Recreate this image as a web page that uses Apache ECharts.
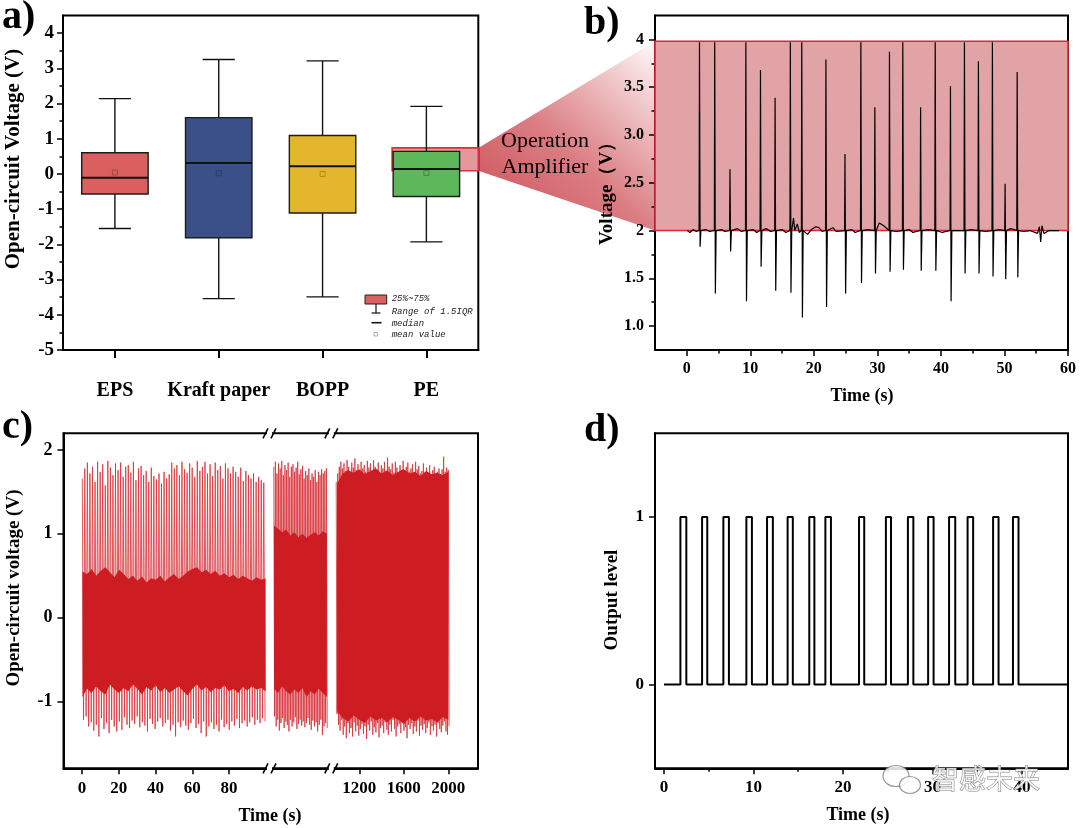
<!DOCTYPE html>
<html><head><meta charset="utf-8">
<script src="https://cdn.jsdelivr.net/npm/echarts@6/dist/echarts.min.js"></script>
<style>html,body{margin:0;padding:0;background:#fff}#c{width:1080px;height:828px}</style>
</head><body><div id="c"></div>
<script>
// ================= DATA =================
// Panel a: box plot
const aCategories = ['EPS', 'Kraft paper', 'BOPP', 'PE'];
const aWhiskerLow  = [-1.55, -3.54, -3.49, -1.93];
const aQ1          = [-0.57, -1.81, -1.11, -0.64];
const aMedian      = [-0.11,  0.31,  0.22,  0.14];
const aQ3          = [ 0.60,  1.60,  1.09,  0.64];
const aWhiskerHigh = [ 2.14,  3.25,  3.21,  1.92];
const aMean        = [ 0.04,  0.02,  0.00,  0.03];
const aYTicks      = [-5, -4, -3, -2, -1, 0, 1, 2, 3, 4];
const aYMinorTicks = [-4.5, -3.5, -2.5, -1.5, -0.5, 0.5, 1.5, 2.5, 3.5];
const aZoomLevels  = [0.09, 0.74];          // highlighted region on PE
const aLegendTexts = ['25%~75%', 'Range of 1.5IQR', 'median', 'mean value'];

// Panel b: amplified voltage
const bSpikeTimes   = [2.0, 4.4, 6.8, 9.3, 11.6, 13.9, 16.3, 18.1, 21.9, 24.9, 27.4, 29.6, 31.9, 34.0, 36.8, 39.1, 41.5, 43.7, 45.9, 48.1, 50.1, 52.0];
const bSpikeTops    = [3.97, 3.97, 2.64, 3.97, 3.68, 3.39, 3.97, 3.97, 3.79, 2.80, 3.97, 3.29, 3.87, 3.97, 3.29, 3.97, 3.51, 3.97, 3.77, 3.97, 2.49, 3.66];
const bSpikeBottoms = [1.83, 1.34, 1.78, 1.26, 1.62, 1.37, 1.35, 1.09, 1.20, 1.34, 1.45, 1.55, 1.57, 1.59, 1.58, 1.58, 1.26, 1.55, 1.55, 1.52, 1.49, 1.51];
const bBaseline = [[0.1,2.0],[0.5,1.98],[1.0,2.01],[1.5,1.99],[3.0,2.01],[3.6,1.99],[5.5,2.01],[6.0,1.99],[8.0,2.02],[8.6,1.99],
  [10.5,2.01],[11.0,1.98],[12.5,2.02],[13.2,1.99],[15.0,2.01],[15.6,1.98],[16.8,2.13],[17.0,2.0],[17.4,2.07],[17.7,1.98],
  [19.0,1.96],[19.6,2.01],[20.3,2.04],[20.8,2.03],[21.3,1.99],[23.0,2.03],[23.5,1.99],[26.0,2.01],[26.5,1.98],[28.5,2.01],
  [30.3,2.08],[30.6,2.09],[31.0,2.05],[33.0,1.99],[35.0,2.01],[35.6,1.98],[38.0,2.01],[40.2,1.98],[42.5,2.0],[44.8,2.01],
  [47.0,1.99],[49.2,2.01],[51.0,2.02],[53.0,1.99],[54.0,2.0],[55.2,1.97],[55.5,2.04],[55.7,1.88],[55.9,2.05],[56.2,1.97],[57.0,2.0],[58.6,2.0]];
const bBoxTimeRange = [-5, 60];
const bBoxLevels    = [2.0, 3.98];
const bXTicks      = [0, 10, 20, 30, 40, 50, 60];
const bXMinorTicks = [5, 15, 25, 35, 45, 55];
const bYTicks      = [1, 1.5, 2, 2.5, 3, 3.5, 4];
const bYTickLabels = ['1.0', '1.5', '2', '2.5', '3.0', '3.5', '4'];
const bYMinorTicks = [1.25, 1.75, 2.25, 2.75, 3.25, 3.75];

// Panel c: long-term open-circuit voltage (three time segments)
const c1Start = 0.2, c1Period = 1.39;
const c1Peaks = [1.66,1.78,1.85,1.72,1.80,1.62,1.86,1.74,1.83,1.58,1.87,1.79,1.70,1.84,1.76,1.85,1.68,1.80,1.82,1.73,1.86,1.64,1.78,1.81,1.70,1.75,1.62,1.79,1.69,1.65,1.72,1.60,1.74,1.66,1.71,1.85,1.78,1.82,1.70,1.86,1.77,1.73,1.84,1.79,1.68,1.87,1.75,1.80,1.86,1.72,1.83,1.69,1.85,1.76,1.81,1.66,1.84,1.78,1.72,1.80,1.74,1.68,1.79,1.63,1.75,1.70,1.66,1.72,1.62,1.68,1.64,1.61];
const c1Troughs = [-1.22,-1.18,-1.30,-1.25,-1.35,-1.28,-1.42,-1.20,-1.33,-1.26,-1.38,-1.22,-1.30,-1.36,-1.24,-1.34,-1.19,-1.28,-1.32,-1.23,-1.27,-1.18,-1.31,-1.25,-1.29,-1.36,-1.21,-1.27,-1.33,-1.24,-1.20,-1.30,-1.26,-1.22,-1.35,-1.28,-1.42,-1.25,-1.31,-1.23,-1.29,-1.34,-1.26,-1.21,-1.32,-1.27,-1.38,-1.24,-1.42,-1.30,-1.25,-1.33,-1.28,-1.36,-1.22,-1.31,-1.27,-1.34,-1.24,-1.29,-1.21,-1.32,-1.26,-1.23,-1.30,-1.25,-1.19,-1.28,-1.22,-1.26,-1.20,-1.24];
const c1CoreStart = 0.3, c1CoreStep = 2.49;
const c1CoreTop = [0.55,0.52,0.58,0.50,0.56,0.60,0.54,0.48,0.57,0.52,0.46,0.50,0.44,0.49,0.42,0.47,0.45,0.50,0.43,0.48,0.52,0.46,0.50,0.55,0.58,0.60,0.54,0.57,0.52,0.56,0.50,0.53,0.48,0.51,0.46,0.50,0.47,0.44,0.48,0.45,0.47];
const c1CoreBottom = [-0.95,-0.85,-0.90,-0.82,-0.88,-0.92,-0.80,-0.86,-0.90,-0.84,-0.88,-0.80,-0.85,-0.92,-0.83,-0.87,-0.81,-0.89,-0.84,-0.90,-0.86,-0.82,-0.88,-0.93,-0.85,-0.80,-0.87,-0.83,-0.89,-0.84,-0.86,-0.81,-0.88,-0.85,-0.90,-0.83,-0.87,-0.82,-0.86,-0.84,-0.88];

const c2Start = 400.3, c2Period = 1.6;
const c2Peaks = [1.80,1.86,1.72,1.84,1.78,1.87,1.70,1.82,1.76,1.85,1.68,1.80,1.83,1.74,1.79,1.86,1.71,1.77,1.81,1.66,1.75,1.70,1.78,1.64,1.72,1.68,1.76,1.62,1.74,1.70,1.77,1.72,1.75,1.78];
const c2Troughs = [-1.18,-1.30,-1.22,-1.35,-1.26,-1.20,-1.32,-1.24,-1.28,-1.36,-1.22,-1.30,-1.25,-1.19,-1.33,-1.27,-1.22,-1.29,-1.24,-1.31,-1.26,-1.20,-1.28,-1.34,-1.23,-1.30,-1.25,-1.36,-1.28,-1.22,-1.40,-1.30,-1.26,-1.32];
const c2CoreStart = 400.5, c2CoreStep = 4.08;
const c2CoreTop = [1.10,1.06,1.02,1.05,0.98,1.02,0.96,1.00,0.95,0.99,1.02,0.98,1.03,1.00];
const c2CoreBottom = [-0.85,-0.90,-0.82,-0.88,-0.92,-0.86,-0.90,-0.84,-0.95,-0.88,-0.92,-0.85,-0.90,-0.95];

const c3Start = 992, c3Period = 14;
const c3Peaks = [1.62,1.72,1.80,1.86,1.78,1.84,1.75,1.88,1.80,1.73,1.85,1.79,1.90,1.76,1.83,1.70,1.86,1.78,1.82,1.74,1.87,1.79,1.84,1.72,1.88,1.80,1.76,1.85,1.70,1.82,1.78,1.86,1.74,1.91,1.80,1.77,1.84,1.73,1.86,1.79,1.68,1.82,1.76,1.87,1.72,1.80,1.85,1.74,1.78,1.83,1.70,1.86,1.77,1.81,1.72,1.75,1.84,1.68,1.79,1.73,1.82,1.70,1.76,1.80,1.66,1.74,1.78,1.71,1.77,1.92,1.74,1.79,1.76];
const c3Troughs = [-1.15,-1.28,-1.35,-1.22,-1.40,-1.30,-1.44,-1.26,-1.38,-1.32,-1.42,-1.25,-1.36,-1.29,-1.41,-1.33,-1.27,-1.39,-1.30,-1.45,-1.28,-1.35,-1.24,-1.40,-1.31,-1.37,-1.26,-1.43,-1.32,-1.29,-1.38,-1.25,-1.34,-1.40,-1.28,-1.36,-1.22,-1.33,-1.42,-1.30,-1.27,-1.38,-1.24,-1.35,-1.31,-1.44,-1.28,-1.33,-1.26,-1.39,-1.30,-1.36,-1.23,-1.41,-1.29,-1.34,-1.27,-1.38,-1.32,-1.25,-1.40,-1.30,-1.35,-1.28,-1.42,-1.26,-1.33,-1.37,-1.29,-1.24,-1.36,-1.40,-1.30];
const c3CoreStart = 1000, c3CoreStep = 50;
const c3CoreTop = [1.60,1.72,1.76,1.73,1.77,1.71,1.75,1.78,1.72,1.76,1.70,1.74,1.77,1.72,1.74,1.69,1.75,1.71,1.73,1.70,1.74];
const c3CoreBottom = [-1.12,-1.20,-1.24,-1.17,-1.22,-1.26,-1.18,-1.23,-1.20,-1.25,-1.19,-1.22,-1.27,-1.20,-1.24,-1.18,-1.23,-1.21,-1.25,-1.19,-1.22];

const c1XTicks = [0, 20, 40, 60, 80];
const c3XTicks = [1200, 1600, 2000];
const cYTicks  = [-1, 0, 1, 2];

// Panel d: comparator output
const dRise = [1.84, 4.26, 6.64, 9.21, 11.52, 13.82, 16.24, 18.04, 21.80, 24.80, 27.26, 29.52, 31.86, 33.93, 36.78, 39.00];
const dFall = [2.50, 4.84, 7.26, 9.83, 12.17, 14.40, 16.81, 18.66, 22.38, 25.37, 27.87, 30.13, 32.55, 34.55, 37.39, 39.62];
const dTimeRange = [0, 45.15];
const dXTicks = [0, 10, 20, 30, 40];
const dXMinorTicks = [5, 15, 25, 35];
const dYTicks = [0, 1];

// ================= STYLE / LAYOUT =================
const FONT = '"Liberation Serif", "Times New Roman", serif';
const boxColors = ['#d9605f', '#3b5088', '#e4b62d', '#5db85a'];
const meanColors = ['#a84444', '#2c3d6a', '#b08a1e', '#3f8f3e'];
const C_RED = '#cd1c22';
const GA = {left: 63, top: 15.5, width: 415.3, height: 334.5};
const GB = {left: 655, top: 15.5, width: 413, height: 334.5};
const GC1 = {left: 63.5, top: 433.3, width: 206, height: 335};
const GC2 = {left: 269.5, top: 433.3, width: 61.8, height: 335};
const GC3 = {left: 331.3, top: 433.3, width: 146.7, height: 335};
const GD = {left: 655, top: 433.3, width: 413, height: 335};

// ================= BUILD =================
function zigzag(t0, period, hi, lo) {
  const d = [];
  for (let i = 0; i < hi.length; i++) {
    const t = t0 + i * period;
    d.push([t, hi[i]]);
    d.push([t + period / 2, lo[i]]);
  }
  return d;
}
function bandSeries(xi, yi, t0, step, top, bot) {
  return {
    type: 'custom', xAxisIndex: xi, yAxisIndex: yi, clip: true, silent: true, z: 4,
    data: [[t0, top[0]]],
    renderItem: function (params, api) {
      const pts = [];
      for (let i = 0; i < top.length; i++) pts.push(api.coord([t0 + i * step, top[i]]));
      for (let i = bot.length - 1; i >= 0; i--) pts.push(api.coord([t0 + i * step, bot[i]]));
      return {type: 'polygon', shape: {points: pts}, style: {fill: C_RED}};
    }
  };
}
function zigSeries(xi, yi, data) {
  return {type: 'line', xAxisIndex: xi, yAxisIndex: yi, data: data, showSymbol: false, z: 2,
    lineStyle: {width: 1, color: '#d8333a', opacity: 0.82}, silent: true};
}
function buildB() {
  const pts = [];
  bBaseline.forEach(p => {
    if (!bSpikeTimes.some(s => p[0] > s - 0.3 && p[0] < s + 0.45)) pts.push(p);
  });
  bSpikeTimes.forEach((s, i) => {
    pts.push([s - 0.06, 2.0], [s, bSpikeTops[i]], [s + 0.1, bSpikeBottoms[i]], [s + 0.22, 2.0]);
  });
  pts.sort((p, q) => p[0] - q[0]);
  return pts;
}
function buildD() {
  const d = [[dTimeRange[0], 0]];
  dRise.forEach((r, i) => { d.push([r, 0], [r, 1], [dFall[i], 1], [dFall[i], 0]); });
  d.push([dTimeRange[1], 0]);
  return d;
}
const boxData = aCategories.map((c, i) => [i, aWhiskerLow[i], aQ1[i], aMedian[i], aQ3[i], aWhiskerHigh[i], aMean[i]]);

const lbl = (size, extra) => Object.assign({color: '#000', fontFamily: FONT, fontWeight: 'bold', fontSize: size}, extra || {});
const axLine = {show: true, onZero: false, lineStyle: {color: '#000', width: 2}};
function valAxis(gi, min, max, ticks, labelSize, margin, extra) {
  return Object.assign({
    type: 'value', gridIndex: gi, min: min, max: max, splitLine: {show: false},
    axisLine: axLine,
    axisTick: {show: true, customValues: ticks, length: 6, lineStyle: {color: '#000', width: 1.5}},
    axisLabel: lbl(labelSize, {customValues: ticks, margin: margin, formatter: v => String(v)})
  }, extra || {});
}
function minorAxis(gi, min, max, ticks, pos) {
  return {type: 'value', gridIndex: gi, min: min, max: max, position: pos, splitLine: {show: false},
    axisLine: {show: false, onZero: false}, axisLabel: {show: false},
    axisTick: {show: true, customValues: ticks, length: 3.5, lineStyle: {color: '#000', width: 1.5}}};
}
const gridStyle = {show: true, borderColor: '#000', borderWidth: 2, backgroundColor: 'transparent', containLabel: false};

const option = {
  backgroundColor: '#fff',
  animation: false,
  grid: [
    Object.assign({}, GA, gridStyle),
    Object.assign({}, GB, gridStyle),
    Object.assign({}, GC1, {show: false}),
    Object.assign({}, GC2, {show: false}),
    Object.assign({}, GC3, {show: false}),
    Object.assign({}, GD, gridStyle)
  ],
  xAxis: [
    {type: 'category', gridIndex: 0, data: aCategories, position: 'bottom',
      axisLine: axLine, splitLine: {show: false},
      axisTick: {show: true, alignWithLabel: true, length: 8, lineStyle: {color: '#000', width: 2}},
      axisLabel: lbl(20, {margin: 31, interval: 0})},
    valAxis(1, -5, 60, bXTicks, 16, 11, {position: 'bottom'}),
    minorAxis(1, -5, 60, bXMinorTicks, 'bottom'),
    valAxis(2, -10, 102, c1XTicks, 17, 12, {position: 'bottom'}),
    {type: 'value', gridIndex: 3, min: 396, max: 458, position: 'bottom', axisLine: axLine,
      axisTick: {show: false}, axisLabel: {show: false}, splitLine: {show: false}},
    valAxis(4, 948, 2267, c3XTicks, 17, 12, {position: 'bottom'}),
    valAxis(5, -1, 45.15, dXTicks, 17, 11, {position: 'bottom'}),
    minorAxis(5, -1, 45.15, dXMinorTicks, 'bottom')
  ],
  yAxis: [
    valAxis(0, -5, 4.5, aYTicks, 19, 9, {position: 'left'}),
    minorAxis(0, -5, 4.5, aYMinorTicks, 'left'),
    valAxis(1, 0.75, 4.25, bYTicks, 16, 11, {position: 'left', axisLabel: lbl(16, {customValues: bYTicks, margin: 11,
      formatter: v => bYTickLabels[bYTicks.indexOf(v)]})}),
    minorAxis(1, 0.75, 4.25, bYMinorTicks, 'left'),
    valAxis(2, -1.8, 2.2, cYTicks, 18, 11, {position: 'left'}),
    {type: 'value', gridIndex: 3, min: -1.8, max: 2.2, show: false},
    {type: 'value', gridIndex: 4, min: -1.8, max: 2.2, show: false},
    valAxis(5, -0.5, 1.5, dYTicks, 17, 11, {position: 'left'})
  ],
  series: [
    // highlighted PE region (behind the boxes)
    {type: 'custom', xAxisIndex: 0, yAxisIndex: 0, z: 1, silent: true,
      data: [[3, aZoomLevels[0], aZoomLevels[1]]],
      renderItem: function (params, api) {
        const c = api.value(0);
        const p0 = api.coord([c, api.value(1)]), p1 = api.coord([c, api.value(2)]);
        const band = api.size([1, 0])[0];
        return {type: 'rect', shape: {x: p0[0] - band * 0.33, y: p1[1], width: band * 0.83, height: p0[1] - p1[1]},
          style: {fill: '#e4989d', stroke: '#db2f37', lineWidth: 1.6}};
      }},
    // boxes
    {type: 'custom', xAxisIndex: 0, yAxisIndex: 0, z: 3, silent: true, data: boxData,
      encode: {x: 0, y: [1, 5]},
      renderItem: function (params, api) {
        const c = api.value(0), i = params.dataIndex;
        const lo = api.coord([c, api.value(1)]), q1 = api.coord([c, api.value(2)]), md = api.coord([c, api.value(3)]);
        const q3 = api.coord([c, api.value(4)]), hi = api.coord([c, api.value(5)]), mn = api.coord([c, api.value(6)]);
        const band = api.size([1, 0])[0], bw = band * 0.64, cw = band * 0.31, x = lo[0];
        const st = {stroke: '#111', lineWidth: 1.4};
        return {type: 'group', children: [
          {type: 'line', shape: {x1: x, y1: hi[1], x2: x, y2: q3[1]}, style: st},
          {type: 'line', shape: {x1: x, y1: q1[1], x2: x, y2: lo[1]}, style: st},
          {type: 'line', shape: {x1: x - cw / 2, y1: hi[1], x2: x + cw / 2, y2: hi[1]}, style: st},
          {type: 'line', shape: {x1: x - cw / 2, y1: lo[1], x2: x + cw / 2, y2: lo[1]}, style: st},
          {type: 'rect', shape: {x: x - bw / 2, y: q3[1], width: bw, height: q1[1] - q3[1]},
            style: {fill: boxColors[i], stroke: '#1c1c1c', lineWidth: 1.4}},
          {type: 'line', shape: {x1: x - bw / 2, y1: md[1], x2: x + bw / 2, y2: md[1]}, style: {stroke: '#111', lineWidth: 2}},
          {type: 'rect', shape: {x: x - 2.5, y: mn[1] - 2.5, width: 5, height: 5},
            style: {fill: 'none', stroke: meanColors[i], lineWidth: 1}}
        ]};
      }},
    // panel b highlighted band
    {type: 'line', xAxisIndex: 1, yAxisIndex: 2, data: [[bBoxTimeRange[0], bBoxLevels[0]]], showSymbol: false,
      lineStyle: {opacity: 0}, z: 1, silent: true,
      markArea: {silent: true, itemStyle: {color: '#e2a3a7', borderColor: '#e0252d', borderWidth: 1.6},
        data: [[{xAxis: bBoxTimeRange[0], yAxis: bBoxLevels[0]}, {xAxis: bBoxTimeRange[1], yAxis: bBoxLevels[1]}]]}},
    {type: 'line', xAxisIndex: 1, yAxisIndex: 2, data: buildB(), showSymbol: false, z: 4, silent: true,
      lineStyle: {color: '#000', width: 1.2}},
    // panel c
    bandSeries(3, 4, c1CoreStart, c1CoreStep, c1CoreTop, c1CoreBottom),
    zigSeries(3, 4, zigzag(c1Start, c1Period, c1Peaks, c1Troughs)),
    bandSeries(4, 5, c2CoreStart, c2CoreStep, c2CoreTop, c2CoreBottom),
    zigSeries(4, 5, zigzag(c2Start, c2Period, c2Peaks, c2Troughs)),
    bandSeries(5, 6, c3CoreStart, c3CoreStep, c3CoreTop, c3CoreBottom),
    zigSeries(5, 6, zigzag(c3Start, c3Period, c3Peaks, c3Troughs)),
    // panel d
    {type: 'line', xAxisIndex: 6, yAxisIndex: 7, data: buildD(), showSymbol: false, z: 3, silent: true,
      lineStyle: {color: '#000', width: 2}}
  ]
};

const chart = echarts.init(document.getElementById('c'), null, {renderer: 'canvas'});
chart.setOption(option);

// ================= ANNOTATIONS (positions from the axes) =================
const rTop = chart.convertToPixel({xAxisIndex: 0, yAxisIndex: 0}, [3, aZoomLevels[1]]);
const rBot = chart.convertToPixel({xAxisIndex: 0, yAxisIndex: 0}, [3, aZoomLevels[0]]);
const rightA = GA.left + GA.width;
const bTop = chart.convertToPixel({xAxisIndex: 1, yAxisIndex: 2}, [bBoxTimeRange[0], bBoxLevels[1]]);
const bBot = chart.convertToPixel({xAxisIndex: 1, yAxisIndex: 2}, [bBoxTimeRange[0], bBoxLevels[0]]);

function T(text, x, y, font, opts) {
  opts = opts || {};
  return {type: 'text', x: x, y: y, z: opts.z || 50, rotation: opts.rotation || 0, silent: true,
    style: Object.assign({text: text, font: font, fill: '#000', align: 'center', verticalAlign: 'middle'}, opts.style || {})};
}
const titleFont = 'bold 19px ' + FONT;
const lgFont = 'italic 9px "Liberation Mono", "DejaVu Sans Mono", monospace';

const elements = [
  // funnel
  {type: 'polygon', z: -5, silent: true,
    shape: {points: [[rightA, rTop[1]], [bTop[0], bTop[1]], [bBot[0], bBot[1]], [rightA, rBot[1]]]},
    style: {fill: new echarts.graphic.LinearGradient(0, 1, 1, 0, [
      {offset: 0, color: 'rgba(200,70,78,0.95)'},
      {offset: 0.45, color: 'rgba(214,110,116,0.9)'},
      {offset: 1, color: 'rgba(255,250,250,0.95)'}])}},
  T('Operation', 545, 141, '22px ' + FONT, {z: 60}),
  T('Amplifier', 545, 167, '22px ' + FONT, {z: 60}),
  // panel labels
  T('a)', 2, 18, 'bold 40px ' + FONT, {style: {align: 'left'}}),
  T('b)', 584, 24, 'bold 40px ' + FONT, {style: {align: 'left'}}),
  T('c)', 2, 428, 'bold 40px ' + FONT, {style: {align: 'left'}}),
  T('d)', 584, 431, 'bold 40px ' + FONT, {style: {align: 'left'}}),
  // axis titles
  T('Open-circuit Voltage (V)', 14, 159, 'bold 21px ' + FONT, {rotation: Math.PI / 2}),
  T('Voltage（V）', 607, 189, titleFont, {rotation: Math.PI / 2}),
  T('Time (s)', 862, 396, 'bold 18px ' + FONT),
  T('Open-circuit voltage (V)', 14, 588, titleFont, {rotation: Math.PI / 2}),
  T('Time (s)', 270, 816, 'bold 18px ' + FONT),
  T('Output level', 612, 600, titleFont, {rotation: Math.PI / 2}),
  T('Time (s)', 858, 815, 'bold 18px ' + FONT),
  // legend for panel a
  {type: 'rect', z: 50, shape: {x: 365, y: 295, width: 21.7, height: 9}, style: {fill: boxColors[0], stroke: '#222', lineWidth: 1}},
  {type: 'line', z: 50, shape: {x1: 376, y1: 304, x2: 376, y2: 313}, style: {stroke: '#111', lineWidth: 1.2}},
  {type: 'line', z: 50, shape: {x1: 371.5, y1: 313, x2: 380.5, y2: 313}, style: {stroke: '#111', lineWidth: 1.2}},
  {type: 'line', z: 50, shape: {x1: 371.5, y1: 322.7, x2: 381.5, y2: 322.7}, style: {stroke: '#111', lineWidth: 1.6}},
  {type: 'rect', z: 50, shape: {x: 374, y: 332.5, width: 3.5, height: 3.5}, style: {fill: 'none', stroke: '#999', lineWidth: 0.8}},
  T(aLegendTexts[0], 391.7, 299, lgFont, {style: {align: 'left', fill: '#222'}}),
  T(aLegendTexts[1], 391.7, 312, lgFont, {style: {align: 'left', fill: '#222'}}),
  T(aLegendTexts[2], 391.7, 323.3, lgFont, {style: {align: 'left', fill: '#222'}}),
  T(aLegendTexts[3], 391.7, 335, lgFont, {style: {align: 'left', fill: '#222'}}),
  // panel c frame
  {type: 'rect', z: 40, shape: {x: GC1.left, y: GC1.top, width: GC3.left + GC3.width - GC1.left, height: GC1.height},
    style: {fill: 'none', stroke: '#000', lineWidth: 2}}
];
// axis-break marks on panel c
[GC2.left, GC3.left].forEach(bx => {
  [GC1.top, GC1.top + GC1.height].forEach(by => {
    elements.push({type: 'rect', z: 45, shape: {x: bx - 2.5, y: by - 3, width: 5, height: 6}, style: {fill: '#fff'}});
    elements.push({type: 'line', z: 46, shape: {x1: bx - 6.5, y1: by + 5, x2: bx - 1.5, y2: by - 5}, style: {stroke: '#000', lineWidth: 1.6}});
    elements.push({type: 'line', z: 46, shape: {x1: bx + 1.5, y1: by + 5, x2: bx + 6.5, y2: by - 5}, style: {stroke: '#000', lineWidth: 1.6}});
  });
});
// watermark
elements.push({type: 'ellipse', z: 70, shape: {cx: 896, cy: 776, rx: 13, ry: 10.5}, style: {fill: 'rgba(255,255,255,0.85)', stroke: 'rgba(110,110,110,0.7)', lineWidth: 1.2}});
elements.push({type: 'ellipse', z: 71, shape: {cx: 910, cy: 785, rx: 10.5, ry: 8.5}, style: {fill: 'rgba(255,255,255,0.85)', stroke: 'rgba(110,110,110,0.7)', lineWidth: 1.2}});
elements.push(T('智感未来', 986, 779, '27px "Noto Sans CJK SC", sans-serif',
  {z: 72, style: {fill: 'rgba(255,255,255,0.8)', stroke: 'rgba(90,90,90,0.75)', lineWidth: 1}}));

chart.setOption({graphic: {elements: elements}});
</script>
</body></html>
